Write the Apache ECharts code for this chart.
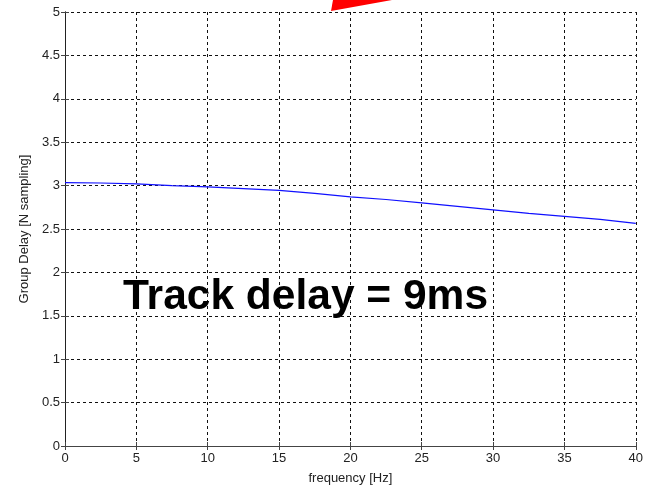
<!DOCTYPE html>
<html>
<head>
<meta charset="utf-8">
<script src="https://cdn.jsdelivr.net/npm/echarts@6/dist/echarts.min.js"></script>
<style>
  html, body { margin: 0; padding: 0; background: #fff; }
  #chart { width: 646px; height: 490px; }
</style>
</head>
<body>
<div id="chart"></div>
<script>
// Group delay of the tracking filter, in samples, versus frequency
const frequencyHz = [0, 2.5, 5, 7.5, 10, 12.5, 15, 17.5, 20, 22.5, 25, 27.5, 30, 32.5, 35, 37.5, 40];
const groupDelay = [3.035, 3.03, 3.02, 3.0, 2.985, 2.965, 2.945, 2.91, 2.87, 2.84, 2.80, 2.76, 2.72, 2.68, 2.645, 2.61, 2.565];
const annotation = 'Track delay = 9ms';
const xTitle = 'frequency [Hz]';
const yTitle = 'Group Delay [N sampling]';

const chart = echarts.init(document.getElementById('chart'), null, { renderer: 'canvas' });

const fontFamily = 'Arial, "Liberation Sans", sans-serif';
const gridLine = { show: true, lineStyle: { color: '#111', type: [3, 3], width: 1 } };
const boxLine = { show: true, lineStyle: { color: '#444', width: 1 } };
const tickIn = { show: true, inside: true, length: 4, lineStyle: { color: '#444' } };
const labelFont = { color: '#222', fontFamily: fontFamily, fontSize: 13 };
const titleFont = { color: '#222', fontFamily: fontFamily, fontSize: 13 };

chart.setOption({
  animation: false,
  backgroundColor: '#fff',
  grid: { left: 65, right: 7, top: 12, bottom: 38, containLabel: false },
  xAxis: [
    {
      type: 'value', min: 0, max: 40, interval: 5, position: 'bottom',
      name: xTitle, nameLocation: 'middle', nameGap: 26,
      nameTextStyle: titleFont,
      axisLine: boxLine, axisTick: tickIn, splitLine: gridLine,
      axisLabel: Object.assign({ margin: 6 }, labelFont)
    },
    {
      type: 'value', min: 0, max: 40, interval: 5, position: 'top',
      axisLine: boxLine, axisTick: tickIn, splitLine: { show: false },
      axisLabel: { show: false }
    }
  ],
  yAxis: [
    {
      type: 'value', min: 0, max: 5, interval: 0.5, position: 'left',
      name: yTitle, nameLocation: 'middle', nameGap: 29, nameRotate: 90,
      nameTextStyle: titleFont,
      axisLine: { show: true, lineStyle: { color: '#222', width: 1 } }, axisTick: tickIn, splitLine: gridLine,
      axisLabel: Object.assign({ margin: 5 }, labelFont)
    },
    {
      type: 'value', min: 0, max: 5, interval: 0.5, position: 'right',
      axisLine: { show: true, lineStyle: { color: '#222', width: 1 } }, axisTick: tickIn, splitLine: { show: false },
      axisLabel: { show: false }
    }
  ],
  series: [
    {
      type: 'line',
      xAxisIndex: 0, yAxisIndex: 0,
      data: frequencyHz.map((f, i) => [f, groupDelay[i]]),
      showSymbol: false,
      lineStyle: { color: '#1010ff', width: 1.2 },
      z: 5
    }
  ],
  graphic: [
    {
      type: 'text',
      x: 123, y: 297,
      z: 20,
      style: {
        text: annotation,
        font: 'bold 42.5px Arial, "Liberation Sans", sans-serif',
        fill: '#000',
        align: 'left',
        verticalAlign: 'middle'
      }
    },
    {
      // tip of the pointer arrow entering from the top edge
      type: 'polygon',
      z: 20,
      shape: { points: [[331, 11], [333, 0], [392, 0]] },
      style: { fill: '#ff0000' }
    }
  ]
});
</script>
</body>
</html>
